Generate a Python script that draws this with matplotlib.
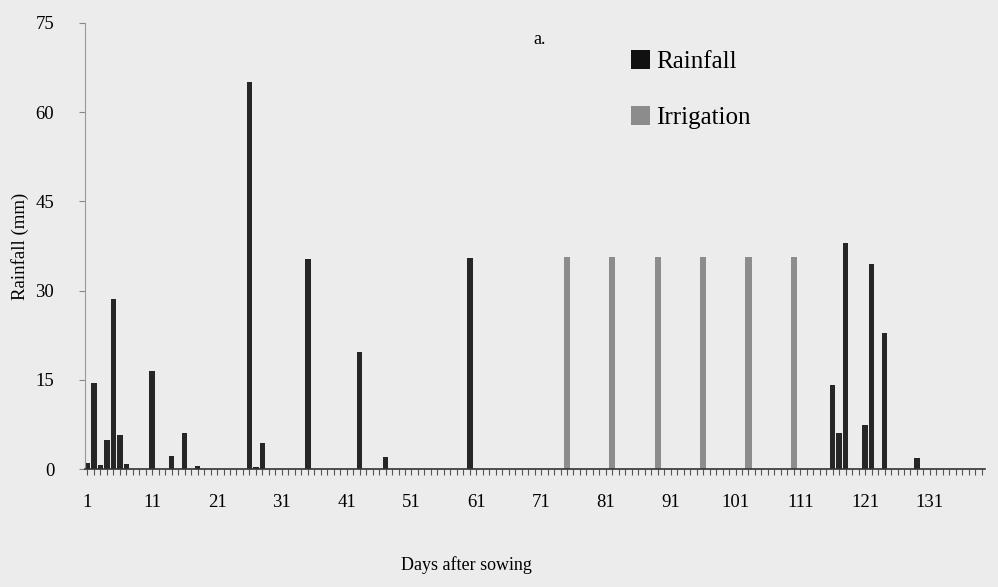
import matplotlib
matplotlib.use("Agg")
import matplotlib.pyplot as plt
from matplotlib.patches import Patch
import numpy as np

plt.rcParams['font.family'] = ['Liberation Serif', 'DejaVu Serif']

# rainfall (mm) by day after sowing
rain_days = [1, 2, 3, 4, 5, 6, 7, 11, 14, 16, 18, 26, 27, 28, 35, 43, 47, 60,
             116, 117, 118, 121, 122, 124, 129]
rain_mm = [1.0, 14.5, 0.6, 4.8, 28.5, 5.8, 0.8, 16.5, 2.2, 6.0, 0.5, 65.0, 0.4, 4.3,
           35.3, 19.7, 2.1, 35.4, 14.1, 6.0, 38.0, 7.4, 34.5, 22.8, 1.8]

# irrigation (mm)
irr_days = [75, 82, 89, 96, 103, 110]
irr_mm = [35.6, 35.6, 35.6, 35.6, 35.6, 35.6]

n_days = 139
x_labels = list(range(1, 132, 10))
y_ticks = [0, 15, 30, 45, 60, 75]

bg = '#ececec'
fig = plt.figure(figsize=(9.98, 5.87), dpi=100, facecolor=bg)
ax = fig.add_axes([0.085, 0.201, 0.902, 0.760], facecolor=bg)

ax.bar(rain_days, rain_mm, width=0.85, color='#262626', label='Rainfall')
ax.bar(irr_days, irr_mm, width=0.95, color='#8c8c8c', label='Irrigation')

ax.set_xlim(0.6, n_days + 0.5)
ax.set_ylim(0, 75)
ax.set_yticks(y_ticks)
ax.set_xticks(x_labels)
ax.set_xticks(np.arange(1, n_days + 1), minor=True)
ax.tick_params(axis='x', which='both', direction='out', length=4, width=0.8,
               color='#555555', pad=14, labelsize=13.5)
ax.tick_params(axis='y', direction='out', length=4, width=0.8, color='#888888',
               pad=18, labelsize=13.5)

for s in ['top', 'right']:
    ax.spines[s].set_visible(False)
ax.spines['left'].set_color('#999999')
ax.spines['bottom'].set_color('#333333')
ax.spines['bottom'].set_linewidth(1.2)

ax.set_ylabel('Rainfall (mm)', fontsize=13.5)
ax.yaxis.set_label_coords(-0.062, 0.5)
ax.set_xlabel('Days after sowing', fontsize=13)
ax.xaxis.set_label_coords(0.424, -0.195)

ax.text(0.505, 0.962, 'a.', transform=ax.transAxes, fontsize=13,
        ha='center', va='center')

handles = [Patch(facecolor='#111111', label='Rainfall'),
           Patch(facecolor='#8c8c8c', label='Irrigation')]
ax.legend(handles=handles, loc='upper left', bbox_to_anchor=(0.582, 0.99),
          frameon=False, fontsize=18, handlelength=0.75, handleheight=0.8,
          handletextpad=0.25, labelspacing=1.3)

fig.savefig('out.png', dpi=100, facecolor=bg)
